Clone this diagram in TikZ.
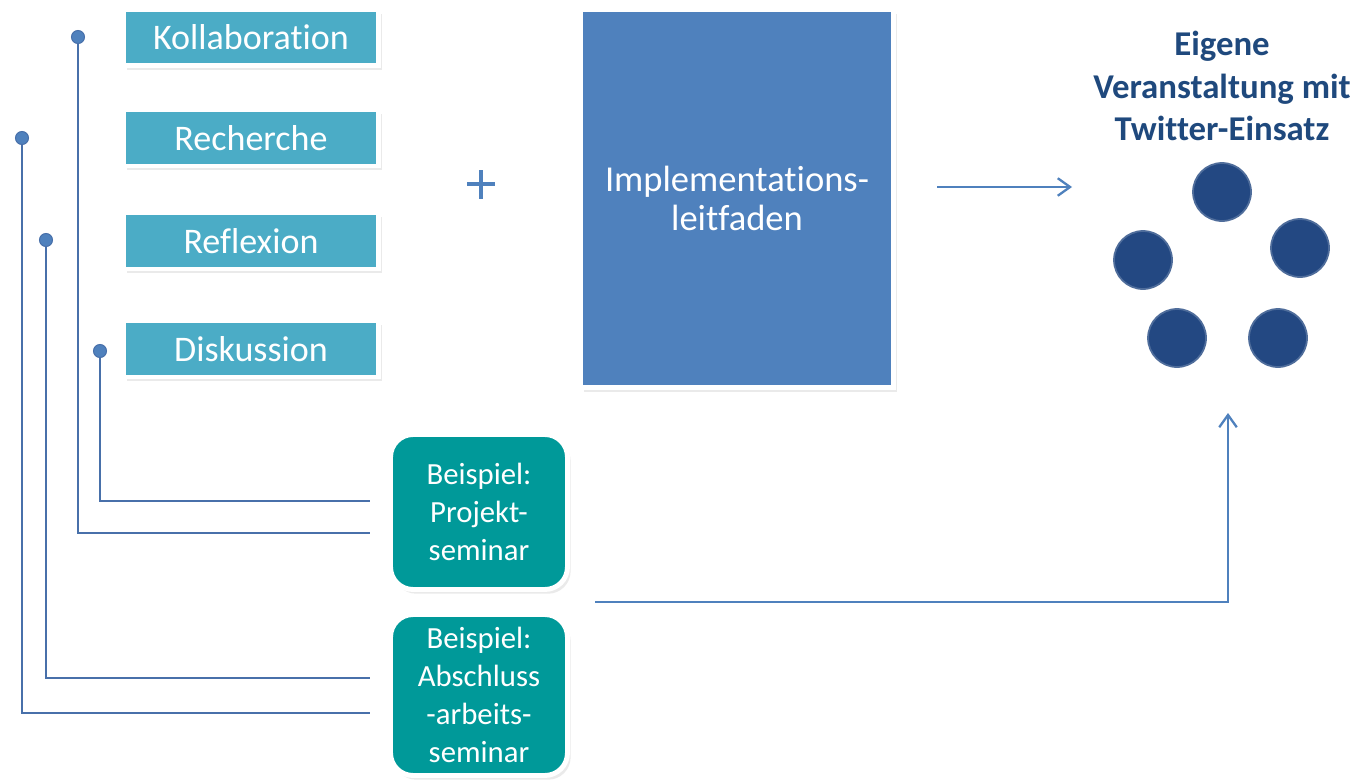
\documentclass[tikz,border=0pt]{standalone}
\usepackage{fontspec}
\setmainfont{Carlito}[Ligatures=NoCommon]
\usetikzlibrary{arrows.meta,shadows}
\definecolor{aqua}{RGB}{75,172,198}
\definecolor{tealbox}{RGB}{0,153,153}
\definecolor{steel}{RGB}{79,129,189}
\definecolor{navydot}{RGB}{35,72,130}
\definecolor{titleblue}{RGB}{31,73,125}
\definecolor{linkblue}{RGB}{72,112,170}
\begin{document}
\begin{tikzpicture}[x=0.02cm,y=-0.02cm,
	boxshadow/.style={drop shadow={shadow xshift=1.8pt,shadow yshift=-2.4pt,opacity=0.16}},
	skill/.style={fill=aqua,draw=white,line width=2.8pt,boxshadow,minimum width=5.1cm,minimum height=1.12cm,text=white,font=\fontsize{20.5}{23}\selectfont},
	example/.style={fill=tealbox,draw=white,line width=2.8pt,boxshadow,rounded corners=0.45cm,minimum width=3.54cm,text=white,align=center,font=\fontsize{17.5}{21.5}\selectfont},
	pin/.style={circle,fill=steel,draw=linkblue,line width=0.6pt,minimum size=0.26cm,inner sep=0pt},
	member/.style={circle,fill=navydot,draw=navydot!80!white,line width=1pt,minimum size=1.16cm,inner sep=0pt},
	link/.style={draw=linkblue,line width=1.2pt},
	flow/.style={draw=steel,line width=1.3pt,-{Straight Barb[length=7pt,width=10pt]}}]
	\useasboundingbox[fill=white] (0,0) rectangle (1351,781);
	% Kompetenzen
	\node[skill] (koll) at (251,37.5) {Kollaboration};
	\node[skill] (rech) at (251,138) {Recherche};
	\node[skill] (refl) at (251,241) {Reflexion};
	\node[skill] (disk) at (251,349) {Diskussion};
	% Beispiele
	\node[example,minimum height=3.1cm] (proj) at (479,512) {Beispiel:\\Projekt-\\seminar};
	\node[example,minimum height=3.22cm] (absc) at (479,695) {Beispiel:\\Abschluss\\-arbeits-\\seminar};
	% Leitfaden
	\node[fill=steel,draw=white,line width=2.8pt,boxshadow,minimum width=6.26cm,minimum height=7.56cm,text=white,align=center,font=\fontsize{20.8}{22}\selectfont] (leit) at (737,198.5) {Implementations-\\leitfaden};
	\draw[steel,line width=2.8pt] (467,184) -- (495,184) (481,170) -- (481,199);
	% Veranstaltung
	\node[text=titleblue,align=center,font=\bfseries\fontsize{19.8}{24}\selectfont] (titel) at (1222,86) {Eigene\\Veranstaltung mit\\Twitter-Einsatz};
	\node[member] (m1) at (1222,192) {};
	\node[member] (m2) at (1300,248) {};
	\node[member] (m3) at (1143,260) {};
	\node[member] (m4) at (1177,338) {};
	\node[member] (m5) at (1278,338) {};
	% Verbindungen
	\node[pin] (pkoll) at (78,37) {};
	\node[pin] (prech) at (22,138) {};
	\node[pin] (prefl) at (46,240) {};
	\node[pin] (pdisk) at (100,351) {};
	\coordinate (ekoll) at (370,533);
	\coordinate (erech) at (370,713);
	\coordinate (erefl) at (370,678);
	\coordinate (edisk) at (370,501);
	\draw[link] (pdisk) |- (edisk);
	\draw[link] (pkoll) |- (ekoll);
	\draw[link] (prefl) |- (erefl);
	\draw[link] (prech) |- (erech);
	% Pfeile
	\coordinate (vstart) at (937,187);
	\coordinate (vend) at (1072,187);
	\draw[flow] (vstart) -- (vend);
	\coordinate (pstart) at (595,602);
	\coordinate (ptip) at (1228,413);
	\draw[flow] (pstart) -| (ptip);
\end{tikzpicture}
\end{document}
